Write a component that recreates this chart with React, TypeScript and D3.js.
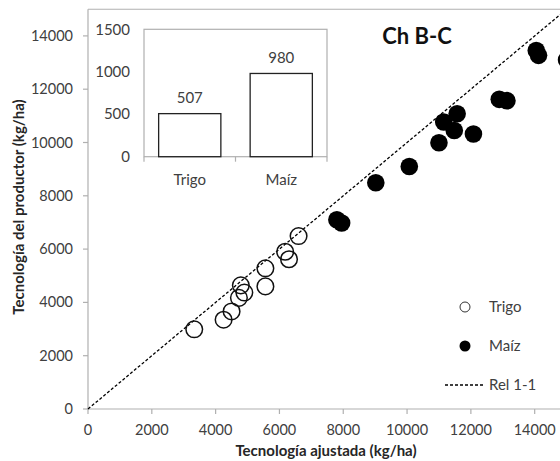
import React from "react";
import * as d3 from "d3";

const trigoX = [3330, 4250, 4500, 4730, 4790, 4900, 5560, 5560, 6180, 6300, 6600];
const trigoY = [2990, 3350, 3660, 4170, 4640, 4370, 5280, 4600, 5900, 5620, 6490];

const maizX = [7800, 7950, 9020, 10070, 11000, 11150, 11570, 11480, 12080, 12890, 13130, 14050, 14120, 15000];
const maizY = [7100, 6980, 8490, 9100, 9990, 10770, 11080, 10450, 10320, 11620, 11570, 13450, 13270, 13100];

const xTicks = [0, 2000, 4000, 6000, 8000, 10000, 12000, 14000];
const yTicks = [0, 2000, 4000, 6000, 8000, 10000, 12000, 14000];

const insetCats = ["Trigo", "Maíz"];
const insetVals = [507, 980];
const insetTicks = [0, 500, 1000, 1500];

const FONT = "Lato, 'Open Sans', sans-serif";
const GREY = "#b0b0b0";
const TXT = "#404040";

export default function App() {
  const x = d3.scaleLinear().domain([0, 16000]).range([88, 598.5]);
  const y = d3.scaleLinear().domain([0, 15000]).range([409, 9.25]);

  const bx = d3.scaleBand<string>().domain(insetCats).range([144, 327]).padding(0);
  const by = d3.scaleLinear().domain([0, 1500]).range([156.7, 29.3]);
  const barW = bx.bandwidth() * 0.68;

  const line = d3.line<[number, number]>().x((d) => x(d[0])).y((d) => y(d[1]));

  return (
    <svg
      width={560}
      height={461}
      style={{ position: "absolute", left: 0, top: 0, background: "#fff" }}
      fontFamily={FONT}
    >
      <rect x={0} y={0} width={560} height={461} fill="#fff" />
      {/* plot frame */}
      <line x1={x(0)} x2={600} y1={y(15000)} y2={y(15000)} stroke={GREY} strokeWidth={1.2} />
      <line x1={x(0)} x2={x(0)} y1={y(15000)} y2={y(0)} stroke={GREY} strokeWidth={1.2} />
      <line x1={x(0)} x2={600} y1={y(0)} y2={y(0)} stroke={GREY} strokeWidth={1.2} />
      {yTicks.map((t) => (
        <g key={"yt" + t}>
          <line x1={x(0) - 5} x2={x(0)} y1={y(t)} y2={y(t)} stroke={GREY} strokeWidth={1.2} />
          <text x={73} y={y(t)} dy="0.35em" textAnchor="end" fontSize={14.5} fill={TXT}>
            {t}
          </text>
        </g>
      ))}
      {xTicks.map((t) => (
        <g key={"xt" + t}>
          <line x1={x(t)} x2={x(t)} y1={y(0)} y2={y(0) + 5} stroke={GREY} strokeWidth={1.2} />
          <text x={x(t)} y={430} dy="0.35em" textAnchor="middle" fontSize={14.5} fill={TXT}>
            {t}
          </text>
        </g>
      ))}
      <text x={326} y={456} textAnchor="middle" fontSize={15} fontWeight="bold" fill="#262626">
        Tecnología ajustada (kg/ha)
      </text>
      <text
        transform={`translate(19,207) rotate(-90)`}
        textAnchor="middle"
        dy="0.35em"
        fontSize={15}
        fontWeight="bold"
        fill="#262626"
      >
        Tecnología del productor (kg/ha)
      </text>

      {/* 1:1 line */}
      <path
        d={line([[0, 0], [16000, 16000]]) || ""}
        stroke="#000"
        strokeWidth={1.3}
        strokeDasharray="3,2"
        fill="none"
      />

      {/* points */}
      {trigoX.map((v, i) => (
        <circle key={"t" + i} cx={x(v)} cy={y(trigoY[i])} r={8.3} fill="none" stroke="#111" strokeWidth={1.5} />
      ))}
      {maizX.map((v, i) => (
        <circle key={"m" + i} cx={x(v)} cy={y(maizY[i])} r={8.8} fill="#000" />
      ))}

      {/* title */}
      <text x={417} y={44} textAnchor="middle" fontSize={22} fontWeight="bold" fill="#111">
        Ch B-C
      </text>

      {/* legend */}
      <circle cx={465} cy={307} r={5} fill="#fff" stroke="#333" strokeWidth={1} />
      <text x={489} y={307} dy="0.35em" fontSize={15} fill={TXT}>Trigo</text>
      <circle cx={465} cy={346} r={5.5} fill="#000" />
      <text x={489} y={346} dy="0.35em" fontSize={15} fill={TXT}>Maíz</text>
      <line x1={445} x2={485} y1={385} y2={385} stroke="#000" strokeWidth={1.3} strokeDasharray="3,2" />
      <text x={489} y={385} dy="0.35em" fontSize={15} fill={TXT}>Rel 1-1</text>

      {/* inset */}
      <rect x={144} y={by(1500)} width={183} height={by(0) - by(1500)} fill="#fff" stroke={GREY} strokeWidth={1.2} />
      {insetTicks.map((t) => (
        <text key={"it" + t} x={130} y={by(t)} dy="0.35em" textAnchor="end" fontSize={15} fill={TXT}>
          {t}
        </text>
      ))}
      {[144, 144 + bx.bandwidth(), 327].map((px, i) => (
        <line key={"ix" + i} x1={px} x2={px} y1={by(0)} y2={by(0) + 5} stroke={GREY} strokeWidth={1.2} />
      ))}
      {insetCats.map((c, i) => {
        const cx = (bx(c) as number) + bx.bandwidth() / 2;
        return (
          <g key={"b" + c}>
            <rect
              x={cx - barW / 2}
              y={by(insetVals[i])}
              width={barW}
              height={by(0) - by(insetVals[i])}
              fill="#fff"
              stroke="#222"
              strokeWidth={1.3}
            />
            <text x={cx} y={by(insetVals[i]) - 16} dy="0.35em" textAnchor="middle" fontSize={15} fill={TXT}>
              {insetVals[i]}
            </text>
            <text x={cx} y={180} dy="0.35em" textAnchor="middle" fontSize={15} fill={TXT}>
              {c}
            </text>
          </g>
        );
      })}
    </svg>
  );
}
